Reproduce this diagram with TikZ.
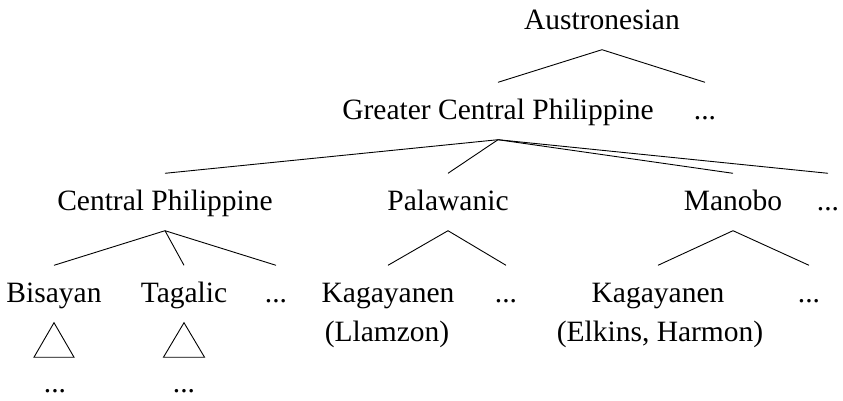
\documentclass[tikz,border=0pt]{standalone}
\usepackage{fontspec}
\setmainfont{Liberation Serif}
\begin{document}
\begin{tikzpicture}[x=1pt,y=-1pt,
  lbl/.style={font=\fontsize{29.5}{36}\selectfont, inner xsep=0pt, inner ysep=0pt,
    text height=37pt, text depth=20pt, anchor=center},
  plain/.style={font=\fontsize{29.5}{36}\selectfont, inner sep=0pt, anchor=center},
  edge/.style={draw=black, line width=0.9pt},
  tri/.style={draw=black, line width=0.9pt}]
\useasboundingbox (0,0) rectangle (843,401);
% level 0
\node[lbl] (A) at (602,21) {Austronesian};
% level 1
\node[lbl] (G) at (498,111) {Greater Central Philippine};
\node[lbl] (Gd) at (705,111) {...};
% level 2
\node[lbl] (CP) at (165,202) {Central Philippine};
\node[lbl] (P) at (448,202) {Palawanic};
\node[lbl] (M) at (733,202) {Manobo};
\node[lbl] (Md) at (828,202) {...};
% level 3
\node[lbl] (B) at (54,294) {Bisayan};
\node[lbl] (T) at (184,294) {Tagalic};
\node[lbl] (Cd) at (276,294) {...};
\node[lbl] (K1) at (388,294) {Kagayanen};
\node[plain] (K1b) at (387,334) {(Llamzon)};
\node[lbl] (Pd) at (506,294) {...};
\node[lbl] (K2) at (658,294) {Kagayanen};
\node[plain] (K2b) at (660,334) {(Elkins, Harmon)};
\node[lbl] (Kd) at (809,294) {...};
% below triangles
\node[plain] (Bd) at (55,391) {...};
\node[plain] (Td) at (184,391) {...};
% connectors
\draw[edge] (A.south) -- (G.north);
\draw[edge] (A.south) -- (Gd.north);
\draw[edge] (G.south) -- (CP.north);
\draw[edge] (G.south) -- (P.north);
\draw[edge] (G.south) -- (M.north);
\draw[edge] (G.south) -- (Md.north);
\draw[edge] (CP.south) -- (B.north);
\draw[edge] (CP.south) -- (T.north);
\draw[edge] (CP.south) -- (Cd.north);
\draw[edge] (P.south) -- (K1.north);
\draw[edge] (P.south) -- (Pd.north);
\draw[edge] (M.south) -- (K2.north);
\draw[edge] (M.south) -- (Kd.north);
% triangles
\draw[tri] (B.south) -- ++(-20,34.5) -- ++(40,0) -- cycle;
\draw[tri] (T.south) -- ++(-20.5,34.5) -- ++(41,0) -- cycle;
\end{tikzpicture}
\end{document}
